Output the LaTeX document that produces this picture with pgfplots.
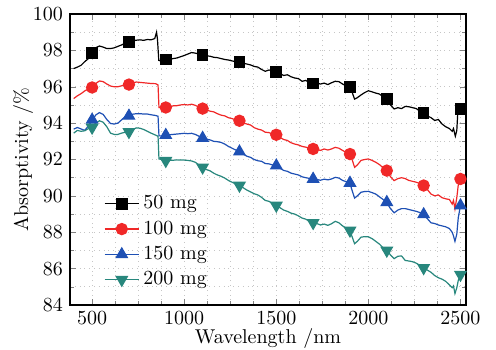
\documentclass[border=0pt]{standalone}
\usepackage{pgfplots}
\pgfplotsset{compat=1.18}
\definecolor{cblack}{RGB}{0,0,0}
\definecolor{cred}{RGB}{240,40,40}
\definecolor{cblue}{RGB}{30,80,180}
\definecolor{cteal}{RGB}{40,135,125}
\begin{document}
\begin{tikzpicture}
\begin{axis}[
  scale only axis,
  width=198pt, height=145.5pt,
  xmin=380, xmax=2530, ymin=84, ymax=100,
  xtick={500,1000,1500,2000,2500},
  ytick={84,86,...,100},
  minor x tick num=3, minor y tick num=1,
  grid=both,
  major grid style={dotted, gray!45, line width=0.35pt},
  minor grid style={dotted, gray!45, line width=0.35pt},
  tick align=inside,
  major tick length=3pt, minor tick length=2pt,
  axis line style={line width=0.6pt},
  xlabel={Wavelength /nm}, ylabel={Absorptivity /\%},
  xlabel style={yshift=5pt}, ylabel style={yshift=-7pt},
  scaled x ticks=false,
  xticklabel style={/pgf/number format/1000 sep={}},
  legend style={draw=none, fill=none, at={(0.07,0.03)}, anchor=south west,
    row sep=0.5pt, font=\normalsize},
  legend cell align=left,
  every axis plot/.append style={line width=0.6pt},
]
\addlegendimage{cblack, mark=square*, mark size=2.6pt}
\addlegendentry{50 mg}
\addlegendimage{cred, mark=*, mark size=2.8pt}
\addlegendentry{100 mg}
\addlegendimage{cblue, mark=triangle*, mark size=3.2pt}
\addlegendentry{150 mg}
\addlegendimage{cteal, mark=triangle*, mark options={rotate=180}, mark size=3.2pt}
\addlegendentry{200 mg}
% 50 mg
\addplot[cblack, no marks, forget plot] coordinates {
(400,97.00)(420,97.08)(440,97.18)(460,97.38)(480,97.55)(500,97.85)(520,98.15)(540,98.24)(560,98.18)(580,98.10)
(600,98.10)(620,98.14)(640,98.22)(660,98.30)(680,98.40)(700,98.45)(720,98.52)(740,98.56)(760,98.58)(780,98.55)
(800,98.60)(820,98.58)(840,98.65)(850,99.00)(855,98.60)(862,97.45)(880,97.40)(900,97.48)(920,97.50)(940,97.55)
(960,97.58)(980,97.65)(1000,97.72)(1020,97.80)(1040,97.88)(1060,97.85)(1080,97.80)(1100,97.74)(1120,97.70)(1140,97.68)
(1160,97.62)(1180,97.60)(1200,97.55)(1220,97.50)(1240,97.47)(1260,97.42)(1280,97.38)(1300,97.34)(1320,97.30)(1340,97.25)
(1360,97.20)(1380,97.12)(1400,97.08)(1420,96.95)(1440,96.85)(1460,96.92)(1480,96.88)(1500,96.80)(1520,96.72)(1540,96.62)
(1560,96.66)(1580,96.55)(1600,96.48)(1620,96.45)(1640,96.30)(1660,96.35)(1680,96.22)(1700,96.18)(1720,96.20)(1740,96.15)
(1760,96.20)(1780,96.12)(1800,96.22)(1820,96.30)(1840,96.28)(1860,96.15)(1880,96.05)(1900,96.00)(1910,95.75)(1925,95.32)
(1940,95.40)(1960,95.55)(1980,95.68)(2000,95.78)(2020,95.72)(2040,95.65)(2060,95.60)(2080,95.45)(2100,95.30)(2120,95.00)
(2140,94.78)(2160,94.85)(2180,94.80)(2200,94.92)(2220,94.90)(2240,94.85)(2260,94.80)(2280,94.65)(2300,94.55)(2320,94.40)
(2340,94.30)(2360,94.15)(2380,94.20)(2400,93.95)(2420,93.80)(2440,93.70)(2455,93.55)(2462,93.70)(2472,93.28)(2480,93.60)
(2486,94.70)(2500,94.77)};
\addplot[cblack, only marks, mark=square*, mark size=2.6pt, forget plot] coordinates {
(500,97.87)(700,98.45)(900,97.50)(1100,97.74)(1300,97.36)(1500,96.80)(1700,96.19)(1900,96.00)(2100,95.32)(2300,94.55)(2500,94.77)};
% 100 mg
\addplot[cred, no marks, forget plot] coordinates {
(400,95.35)(420,95.50)(440,95.62)(460,95.77)(480,95.88)(500,95.96)(520,96.18)(540,96.32)(560,96.28)(580,96.15)
(600,96.04)(620,96.00)(640,96.00)(660,96.05)(680,96.10)(700,96.12)(720,96.22)(740,96.26)(760,96.24)(780,96.22)
(800,96.20)(820,96.18)(845,96.17)(858,96.10)(863,94.86)(880,94.86)(900,94.86)(920,94.90)(940,94.95)(960,94.96)
(980,95.00)(1000,95.02)(1020,95.00)(1040,95.04)(1060,94.98)(1080,94.88)(1100,94.80)(1120,94.72)(1140,94.66)(1160,94.62)
(1180,94.52)(1200,94.44)(1220,94.40)(1240,94.30)(1260,94.25)(1280,94.18)(1300,94.13)(1320,94.02)(1340,93.95)(1360,93.90)
(1380,93.75)(1400,93.67)(1420,93.62)(1440,93.50)(1460,93.48)(1480,93.40)(1500,93.36)(1520,93.22)(1540,93.10)(1560,93.05)
(1580,92.92)(1600,92.85)(1620,92.80)(1640,92.72)(1660,92.68)(1680,92.62)(1700,92.58)(1720,92.55)(1740,92.50)(1760,92.58)
(1780,92.52)(1800,92.58)(1820,92.67)(1840,92.62)(1860,92.50)(1880,92.38)(1900,92.30)(1910,92.05)(1925,91.57)(1940,91.70)
(1960,91.95)(1980,92.00)(2000,92.03)(2020,91.95)(2040,91.85)(2060,91.72)(2080,91.55)(2100,91.39)(2120,91.05)(2140,90.84)
(2160,90.95)(2180,91.00)(2200,90.95)(2220,90.85)(2240,90.80)(2260,90.75)(2280,90.68)(2300,90.57)(2320,90.35)(2340,90.10)
(2360,90.00)(2380,90.05)(2400,89.90)(2420,89.84)(2440,89.80)(2455,89.55)(2462,89.75)(2470,89.28)(2480,89.90)(2488,90.60)
(2500,90.93)};
\addplot[cred, only marks, mark=*, mark size=2.8pt, forget plot] coordinates {
(500,95.96)(700,96.12)(900,94.86)(1100,94.80)(1300,94.13)(1500,93.36)(1700,92.58)(1900,92.30)(2100,91.39)(2300,90.57)(2500,90.93)};
% 150 mg
\addplot[cblue, no marks, forget plot] coordinates {
(400,93.67)(420,93.76)(440,93.68)(460,93.60)(480,93.85)(500,94.15)(520,94.45)(540,94.58)(560,94.48)(580,94.20)
(600,93.98)(620,93.95)(640,94.00)(660,94.18)(680,94.36)(700,94.42)(720,94.49)(740,94.52)(760,94.52)(780,94.50)
(800,94.50)(820,94.46)(845,94.42)(858,94.38)(863,93.30)(880,93.30)(900,93.34)(920,93.36)(940,93.38)(960,93.40)
(980,93.42)(1000,93.44)(1020,93.42)(1040,93.44)(1060,93.38)(1080,93.28)(1100,93.18)(1120,93.12)(1140,93.08)(1160,93.00)
(1180,92.98)(1200,92.94)(1220,92.85)(1240,92.72)(1260,92.62)(1280,92.52)(1300,92.43)(1320,92.30)(1340,92.18)(1360,92.12)
(1380,92.00)(1400,91.93)(1420,91.90)(1440,91.78)(1460,91.76)(1480,91.70)(1500,91.66)(1520,91.52)(1540,91.40)(1560,91.35)
(1580,91.25)(1600,91.20)(1620,91.15)(1640,91.05)(1660,91.00)(1680,90.96)(1700,90.93)(1720,90.90)(1740,90.86)(1760,90.92)
(1780,90.88)(1800,90.93)(1820,91.02)(1840,90.98)(1860,90.85)(1880,90.78)(1900,90.70)(1910,90.35)(1925,89.88)(1940,90.00)
(1960,90.20)(1980,90.24)(2000,90.25)(2020,90.18)(2040,90.10)(2060,89.95)(2080,89.80)(2100,89.62)(2120,89.30)(2140,89.07)
(2160,89.22)(2180,89.30)(2200,89.30)(2220,89.25)(2240,89.20)(2260,89.15)(2280,89.08)(2300,88.98)(2320,88.75)(2340,88.52)
(2360,88.48)(2380,88.40)(2400,88.35)(2420,88.30)(2440,88.20)(2455,88.00)(2462,87.80)(2470,87.50)(2480,87.90)(2488,88.80)
(2500,89.47)};
\addplot[cblue, only marks, mark=triangle*, mark size=3.2pt, forget plot] coordinates {
(500,94.18)(700,94.40)(900,93.34)(1100,93.18)(1300,92.43)(1500,91.66)(1700,90.93)(1900,90.71)(2100,89.65)(2300,88.98)(2500,89.47)};
% 200 mg
\addplot[cteal, no marks, forget plot] coordinates {
(400,93.45)(420,93.60)(440,93.55)(460,93.58)(480,93.70)(500,93.76)(520,94.00)(540,94.13)(560,94.05)(580,93.80)
(600,93.45)(620,93.38)(640,93.38)(660,93.45)(680,93.50)(700,93.52)(720,93.65)(740,93.74)(760,93.72)(780,93.65)
(800,93.55)(820,93.45)(845,93.34)(858,93.28)(863,92.03)(880,92.00)(900,91.93)(920,91.95)(940,91.96)(960,91.98)
(980,91.97)(1000,91.97)(1020,91.95)(1040,91.92)(1060,91.85)(1080,91.70)(1100,91.57)(1120,91.45)(1140,91.38)(1160,91.25)
(1180,91.15)(1200,91.08)(1220,90.98)(1240,90.85)(1260,90.75)(1280,90.65)(1300,90.57)(1320,90.45)(1340,90.32)(1360,90.22)
(1380,90.12)(1400,90.05)(1420,89.92)(1440,89.75)(1460,89.70)(1480,89.58)(1500,89.47)(1520,89.35)(1540,89.22)(1560,89.15)
(1580,89.05)(1600,89.00)(1620,88.90)(1640,88.78)(1660,88.72)(1680,88.60)(1700,88.52)(1720,88.48)(1740,88.40)(1760,88.45)
(1780,88.38)(1800,88.47)(1820,88.60)(1840,88.52)(1860,88.35)(1880,88.22)(1900,88.10)(1910,87.80)(1925,87.37)(1940,87.50)
(1960,87.73)(1980,87.76)(2000,87.75)(2020,87.65)(2040,87.50)(2060,87.35)(2080,87.15)(2100,87.00)(2120,86.75)(2140,86.55)
(2160,86.68)(2180,86.70)(2200,86.45)(2220,86.42)(2240,86.38)(2260,86.30)(2280,86.18)(2300,86.04)(2320,85.92)(2340,85.80)
(2360,85.62)(2380,85.50)(2400,85.42)(2420,85.30)(2440,85.10)(2455,84.95)(2462,85.05)(2470,84.63)(2480,84.95)(2488,85.35)
(2500,85.67)};
\addplot[cteal, only marks, mark=triangle*, mark options={rotate=180}, mark size=3.2pt, forget plot] coordinates {
(500,93.76)(700,93.52)(900,91.93)(1100,91.57)(1300,90.57)(1500,89.47)(1700,88.52)(1900,88.10)(2100,87.00)(2300,86.04)(2500,85.67)};
\end{axis}
\pgfresetboundingbox
\path[use as bounding box] ([xshift=-35pt,yshift=-22pt]current axis.south west) rectangle ([xshift=15pt,yshift=7pt]current axis.north east);
\end{tikzpicture}
\end{document}
